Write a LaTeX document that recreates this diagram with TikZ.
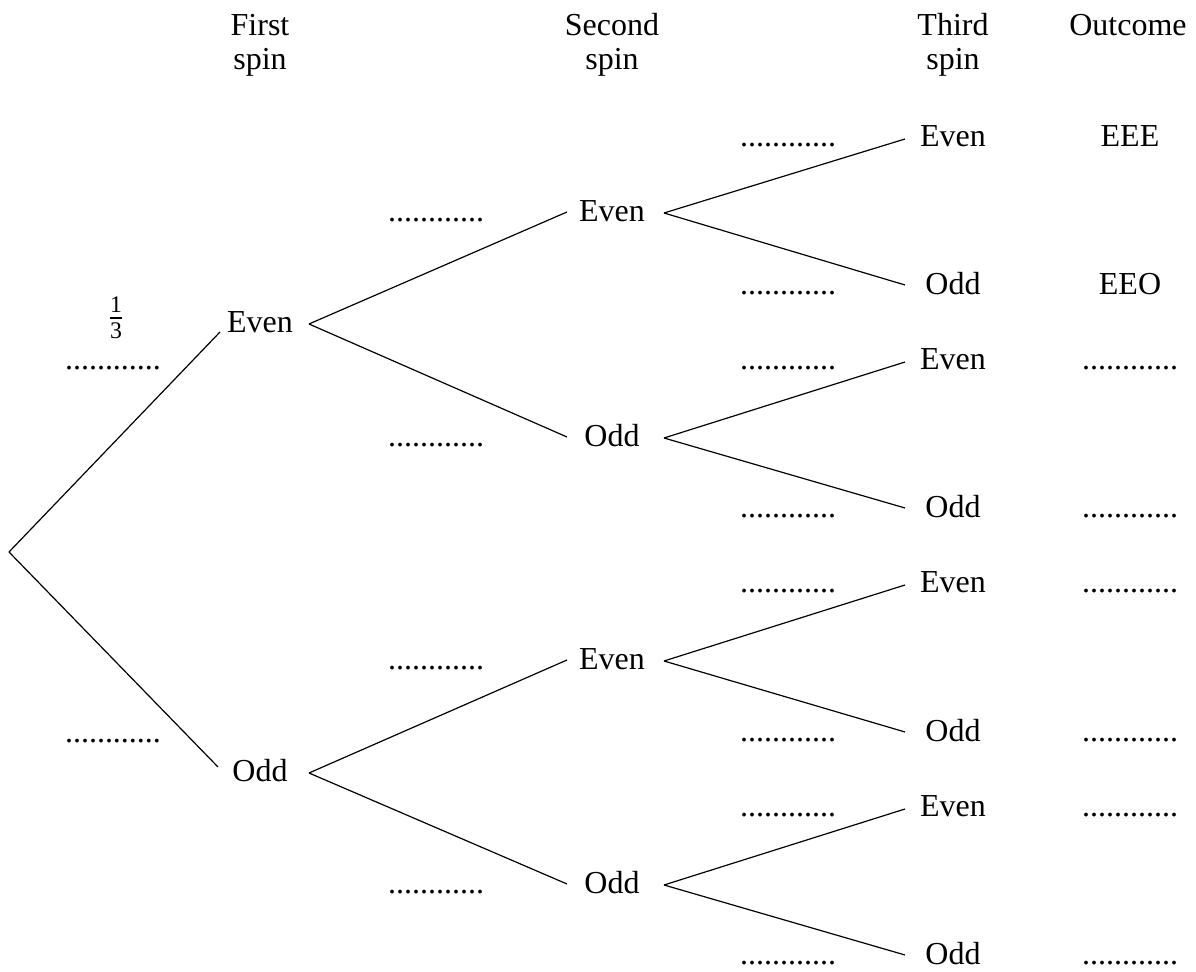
\documentclass[tikz,border=0pt]{standalone}
\usepackage{fontspec}
\usepackage{amsmath}
\setmainfont{Liberation Serif}
\begin{document}
\begin{tikzpicture}[x=0.5pt,y=-0.5pt,
  lab/.style={anchor=base,inner sep=0pt,font=\fontsize{16}{19}\selectfont},
  branch/.style={draw=black,line width=0.6pt}]
\useasboundingbox (0,0) rectangle (1196,972);
% headers
\node[lab] (h1a) at (260,36) {First};
\node[lab] (h1b) at (260,70) {spin};
\node[lab] (h2a) at (612,36) {Second};
\node[lab] (h2b) at (612,70) {spin};
\node[lab] (h3a) at (953,36) {Third};
\node[lab] (h3b) at (953,70) {spin};
\node[lab] (h4a) at (1128,36) {Outcome};
% root
\coordinate (root) at (9,552);
% first spin
\node[lab] (e1) at (260,333) {Even};
\node[lab] (o1) at (260,782) {Odd};
\node[inner sep=0pt,font=\fontsize{17}{20}\selectfont] (pfrac) at (116,318) {$\frac{\text{1}}{\text{3}}$};
\node[lab] (pe1) at (113,370) {............};
\node[lab] (po1) at (113,743) {............};
% second spin
\node[lab] (ee2) at (612,222) {Even};
\node[lab] (eo2) at (612,447) {Odd};
\node[lab] (oe2) at (612,670) {Even};
\node[lab] (oo2) at (612,894) {Odd};
\node[lab] (pee2) at (436,222) {............};
\node[lab] (peo2) at (436,447) {............};
\node[lab] (poe2) at (436,670) {............};
\node[lab] (poo2) at (436,894) {............};
% third spin
\node[lab] (eee) at (953,147) {Even};
\node[lab] (eeo) at (953,295) {Odd};
\node[lab] (eoe) at (953,370) {Even};
\node[lab] (eoo) at (953,518) {Odd};
\node[lab] (oee) at (953,593) {Even};
\node[lab] (oeo) at (953,742) {Odd};
\node[lab] (ooe) at (953,817) {Even};
\node[lab] (ooo) at (953,965) {Odd};
\foreach \n/\y in {eee/147,eeo/295,eoe/370,eoo/518,oee/593,oeo/742,ooe/817,ooo/965}
  \node[lab] (p\n) at (788,\y) {............};
% outcomes
\node[lab] (r1) at (1130,147) {EEE};
\node[lab] (r2) at (1130,295) {EEO};
\foreach \n/\y in {3/370,4/518,5/593,6/742,7/817,8/965}
  \node[lab] (r\n) at (1130,\y) {............};
% connectors
\draw[branch] (root) -- ([shift={(-20pt,0.5pt)}]e1.base);
\draw[branch] (root) -- ([shift={(-21pt,7.5pt)}]o1.base);
\foreach \a/\b/\c in {e1/ee2/eo2,o1/oe2/oo2}{
  \draw[branch] ([shift={(24.5pt,4.5pt)}]\a.base) -- ([shift={(-22.5pt,5pt)}]\b.base);
  \draw[branch] ([shift={(24.5pt,4.5pt)}]\a.base) -- ([shift={(-22.5pt,5pt)}]\c.base);
}
\foreach \a/\b/\c in {ee2/eee/eeo,eo2/eoe/eoo,oe2/oee/oeo,oo2/ooe/ooo}{
  \draw[branch] ([shift={(26pt,4.5pt)}]\a.base) -- ([shift={(-24pt,4pt)}]\b.base);
  \draw[branch] ([shift={(26pt,4.5pt)}]\a.base) -- ([shift={(-24pt,5pt)}]\c.base);
}
\end{tikzpicture}
\end{document}
